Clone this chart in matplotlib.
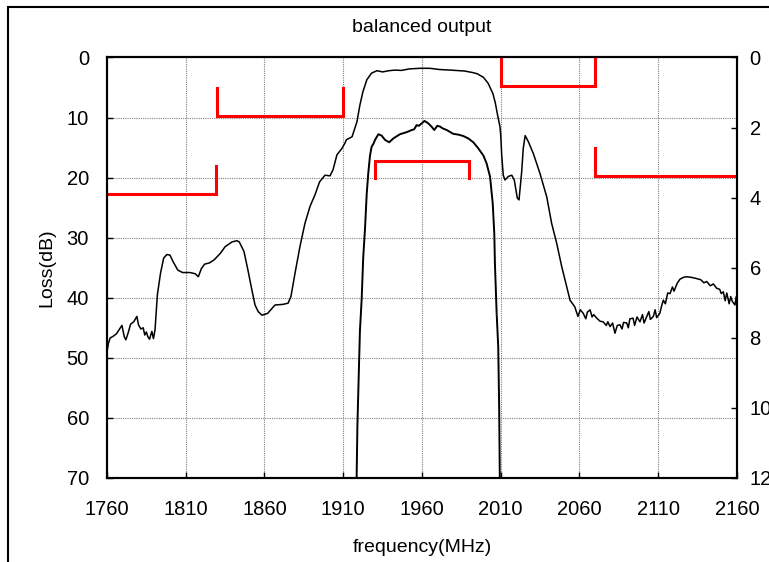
import matplotlib
matplotlib.use('Agg')
import matplotlib.pyplot as plt
from matplotlib.patches import Rectangle
from matplotlib.ticker import MultipleLocator

plt.rcParams['font.family'] = ['Liberation Sans', 'DejaVu Sans']

# balanced output - loss (left axis, dB)
f_out = [1760, 1761, 1762, 1764, 1766, 1768, 1769.5, 1771, 1772, 1773.5, 1775, 1777, 1779,
         1780, 1781.5, 1783, 1784, 1785, 1786, 1787, 1788.5, 1789.5, 1790.5, 1792, 1794,
         1796, 1798, 1800, 1802, 1805, 1808, 1812.7, 1816, 1818, 1820, 1822, 1825, 1828,
         1832, 1835, 1839.4, 1842.5, 1844, 1847, 1849.5, 1852, 1854, 1856, 1858.4, 1862,
         1866.7, 1871.7, 1875, 1876.8, 1879.4, 1882.5, 1885.7, 1888.9, 1892, 1895, 1898.4,
         1901.6, 1903.5, 1906, 1909, 1911, 1912, 1915.6, 1918.7, 1920.6, 1922.5, 1925, 1928,
         1931.4, 1935, 1939, 1943, 1947, 1952, 1958.7, 1965, 1971, 1978, 1987, 1992, 1995,
         1999, 2002, 2005, 2006.5, 2008, 2009.5, 2010, 2010.6, 2011.6, 2012.7, 2014.8, 2017,
         2018.6, 2020.5, 2021.6, 2023.3, 2024.3, 2025.5, 2027.5, 2030.7, 2034.9, 2039.2,
         2042.3, 2045.5, 2048.7, 2051.9, 2054, 2057, 2059, 2060.5, 2062.4, 2064, 2065,
         2066.7, 2068, 2069, 2071, 2073, 2075, 2077, 2078, 2079.4, 2081, 2082.5, 2084,
         2085.7, 2087, 2088, 2090, 2091, 2092, 2094, 2095, 2096.5, 2098.4, 2100, 2101,
         2102.7, 2104, 2105, 2106.9, 2108, 2109, 2111, 2112, 2113.2, 2114.5, 2116, 2117.5,
         2119, 2120, 2122, 2123.8, 2126, 2128, 2131, 2134.3, 2137, 2139, 2140.8, 2143, 2145,
         2147, 2149, 2150, 2151.3, 2152.5, 2153.5, 2155, 2156, 2157, 2158.7, 2159.5, 2160]
loss_out = [49.0, 47.5, 46.7, 46.4, 46.0, 45.2, 44.6, 46.5, 47.0, 45.8, 44.4, 44.0, 43.1,
            44.5, 45.2, 45.0, 46.2, 45.7, 46.5, 46.9, 45.6, 46.8, 45.4, 39.5, 35.9,
            33.4, 32.8, 32.9, 34.0, 35.4, 35.8, 35.8, 36.0, 36.5, 35.1, 34.4, 34.2, 33.7,
            32.6, 31.5, 30.7, 30.5, 30.7, 32.3, 35.4, 38.7, 41.2, 42.3, 42.9, 42.6,
            41.2, 41.1, 40.9, 39.8, 35.9, 31.5, 27.6, 24.8, 22.9, 20.7, 19.6,
            19.7, 18.7, 16.2, 15.2, 14.3, 13.7, 13.2, 10.7, 7.9, 5.7, 3.7, 2.6,
            2.2, 2.4, 2.2, 2.1, 2.15, 1.9, 1.8, 1.8, 2.0, 2.1, 2.25, 2.5, 2.7,
            3.3, 4.3, 6.0, 7.5, 9.6, 11.5, 13.0, 16.2, 19.6, 20.4, 19.8, 19.6,
            20.4, 23.4, 23.7, 19.0, 15.1, 13.0, 14.0, 16.0, 19.3, 23.2,
            27.6, 30.9, 34.8, 38.2, 40.4, 41.5, 43.1, 42.0, 42.6, 43.5, 42.4,
            42.0, 43.2, 42.8, 43.4, 43.9, 44.0, 44.6, 44.0, 44.8, 44.2, 45.9, 44.6,
            44.5, 45.2, 44.1, 44.2, 45.0, 43.5, 43.4, 44.6, 43.2, 44.0, 42.8, 44.2,
            43.1, 42.3, 43.6, 43.1, 42.0, 43.3, 42.6, 41.5, 40.4, 41.0, 39.2, 39.3,
            38.2, 38.9, 37.6, 36.9, 36.6, 36.5, 36.6, 36.8, 37.0, 37.5, 37.3, 38.0, 37.7,
            38.4, 38.6, 39.3, 39.0, 40.5, 39.2, 41.0, 39.8, 40.6, 41.2, 39.8, 41.3]

# passband insertion loss (right axis, dB)
f_in = [1918.5, 1919.0, 1920, 1920.6, 1921.7, 1922.7, 1923.8, 1924.9, 1925.9, 1927, 1928,
        1929.3, 1930.2, 1932.3, 1934.4, 1936.5, 1939.2, 1941.8, 1946, 1950.3, 1953.5, 1955,
        1956.6, 1958, 1959.8, 1961.6, 1963, 1964, 1966, 1967.8, 1969.7, 1971.4, 1973,
        1975.7, 1979.9, 1983, 1986.2, 1989.4, 1992.6, 1995.7, 1999, 2001, 2003.2, 2004.9,
        2005.9, 2006.3, 2007.4, 2008.4, 2009, 2009.4]
loss_in = [12.0, 10.5, 8.8, 7.8, 6.9, 5.7, 4.9, 3.9, 3.3, 2.8, 2.55,
           2.45, 2.35, 2.19, 2.23, 2.35, 2.42, 2.31, 2.19, 2.13, 2.07, 2.05,
           1.93, 1.95, 1.88, 1.81, 1.85, 1.88, 1.97, 2.07, 1.95, 1.97, 2.02,
           2.07, 2.18, 2.2, 2.24, 2.31, 2.42, 2.59, 2.8, 3.02, 3.40, 4.16,
           5.02, 5.87, 7.30, 8.25, 10.0, 12.0]

# spec masks (left axis, dB)
mask1_f = [1760, 1829, 1829]
mask1_l = [22.8, 22.8, 18.0]
mask2_f = [1830, 1830, 1910, 1910]
mask2_l = [5.0, 9.8, 9.8, 5.0]
mask3_f = [1930, 1930, 1990, 1990]
mask3_l = [20.0, 17.2, 17.2, 20.0]
mask4_f = [2010, 2010, 2070, 2070]
mask4_l = [0.0, 4.7, 4.7, 0.0]
mask5_f = [2070, 2070, 2160]
mask5_l = [15.0, 19.7, 19.7]

xticks = [1760, 1810, 1860, 1910, 1960, 2010, 2060, 2110, 2160]

fig = plt.figure(figsize=(7.69, 5.62), dpi=100)
ax = fig.add_axes([0.1391, 0.1495, 0.8193, 0.7482])
ax2 = ax.twinx()

ax.plot(f_out, loss_out, color='black', lw=1.1)
ax2.plot(f_in, loss_in, color='black', lw=1.4)
for mf, ml in [(mask1_f, mask1_l), (mask2_f, mask2_l), (mask3_f, mask3_l),
               (mask4_f, mask4_l), (mask5_f, mask5_l)]:
    ax.plot(mf, ml, color='#ff0000', lw=2.2, solid_joinstyle='miter', zorder=4)

ax.set_xlim(1760, 2160)
ax.set_ylim(70, 0)
ax2.set_ylim(12, 0)
ax.set_xticks(xticks)
ax.yaxis.set_major_locator(MultipleLocator(10))
ax2.yaxis.set_major_locator(MultipleLocator(2))

ax.grid(True, color='#808080', linestyle=(0, (1, 1)), lw=0.8)
ax.tick_params(axis='both', direction='in', length=4, width=1, labelsize=14.5)
ax.tick_params(axis='y', pad=13)
ax.tick_params(axis='x', pad=16)
ax2.tick_params(axis='y', direction='in', length=4, width=1, labelsize=14.5, pad=9)
for a in (ax, ax2):
    for s in a.spines.values():
        s.set_linewidth(1.5)

ax.set_xlabel('frequency(MHz)', fontsize=14, labelpad=14)
ax.set_ylabel('Loss(dB)', fontsize=14, labelpad=8)
ax.set_title('balanced output', fontsize=14, pad=18)

# outer frame of the sheet
fig.patches.append(Rectangle((8 / 769, -0.2), 1.5, 1.2 - 7 / 562, transform=fig.transFigure,
                             fill=False, edgecolor='black', lw=1.5, clip_on=False))

fig.savefig('out.png', dpi=100)
